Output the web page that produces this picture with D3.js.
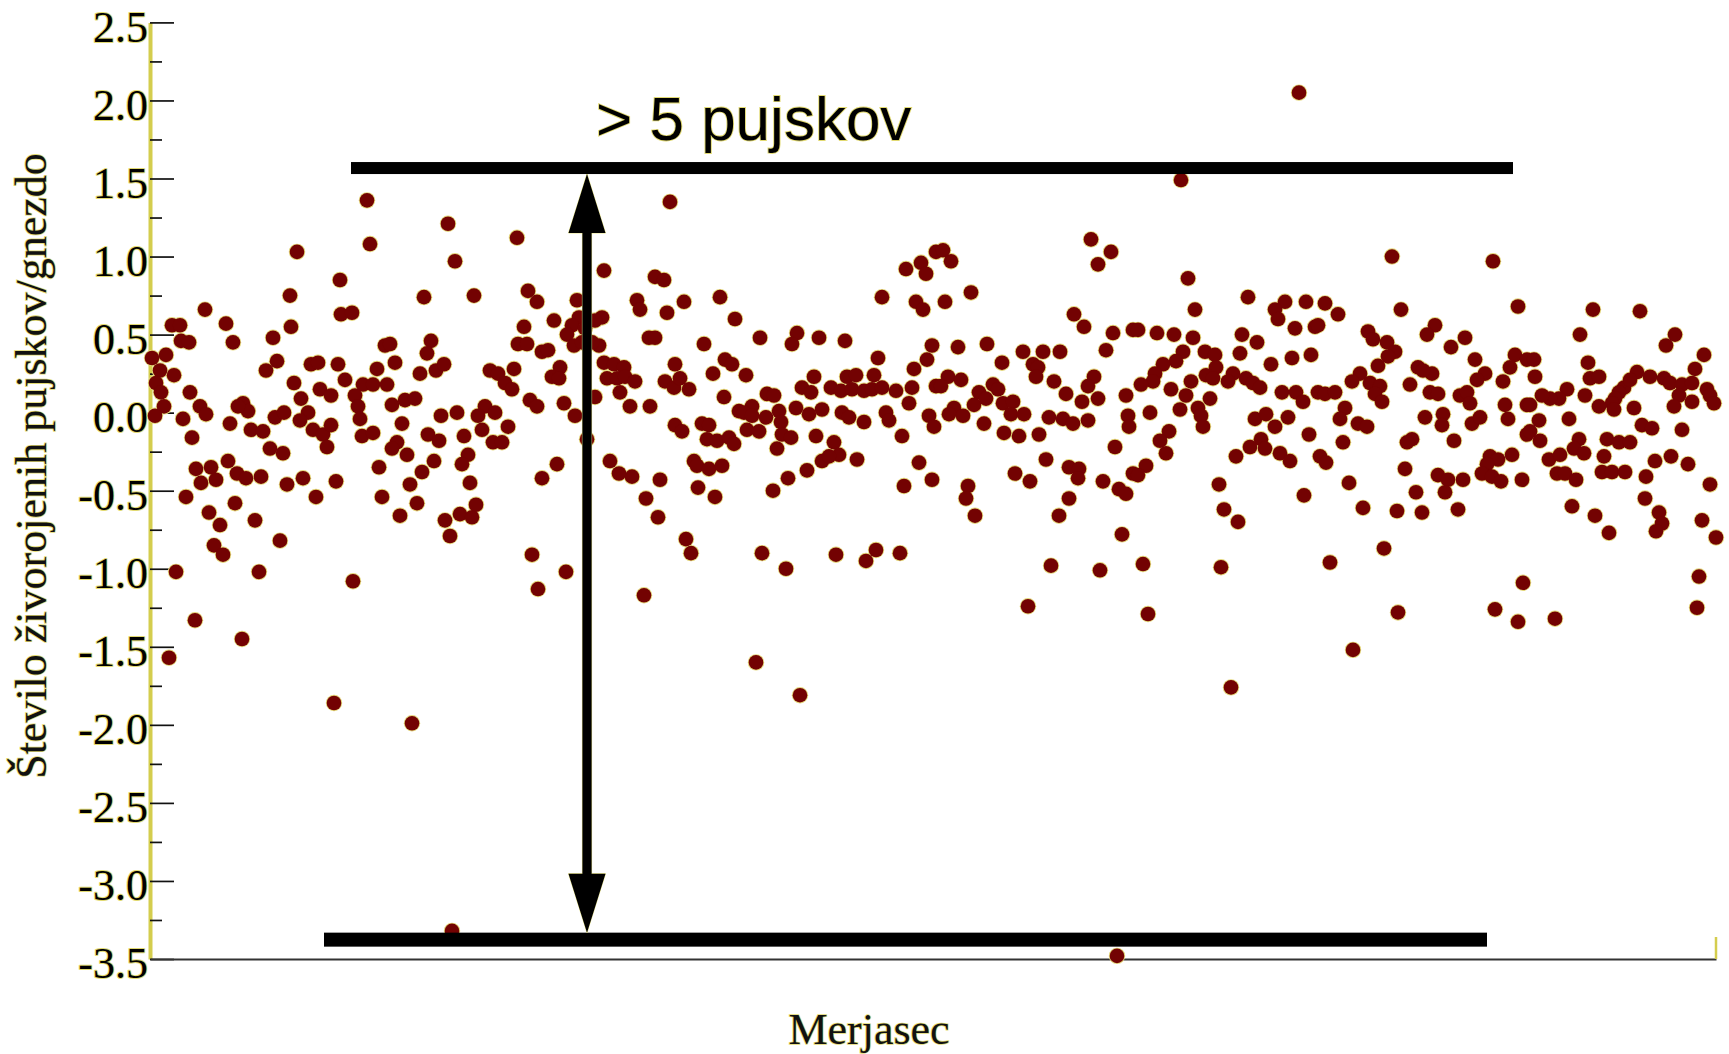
<!DOCTYPE html>
<html><head><meta charset="utf-8">
<script src="https://cdn.jsdelivr.net/npm/d3@7"></script>
<style>
html,body{margin:0;padding:0;background:#fff;}
svg{display:block;}
</style></head><body>
<svg id="chart" width="1729" height="1054"></svg>
<script>
// ---------- data ----------
const yTickValues = [-3.5,-3,-2.5,-2,-1.5,-1,-0.5,0,0.5,1,1.5,2,2.5];
const yTickLabels = ["-3.5","-3.0","-2.5","-2.0","-1.5","-1.0","-0.5","0.0","0.5","1.0","1.5","2.0","2.5"];
const yMinorTicks = [-3.25,-2.75,-2.25,-1.75,-1.25,-0.75,-0.25,0.25,0.75,1.25,1.75,2.25];
const yTitle = "Število živorojenih pujskov/gnezdo";
const xTitle = "Merjasec";
const annotationText = "> 5 pujskov";

// each point: [boar order position, piglets deviation]
const group1 = [[147,1.03],[190,0.85],[140,0.75],[191,0.63],[55,0.66],[22,0.56],[30,0.56],[76,0.57],[141,0.55],[31,0.46],[39,0.45],[83,0.45],[123,0.48],[2,0.35],[16,0.37],[127,0.33],[116,0.27],[161,0.31],[168,0.32],[188,0.31],[10,0.27],[24,0.24],[6,0.19],[195,0.21],[144,0.19],[11,0.13],[40,0.13],[170,0.15],[181,0.11],[151,0.09],[93,0.06],[98,0.01],[88,0.04],[50,0.04],[56,-0.01],[14,0.04],[5,-0.02],[33,-0.04],[158,0.00],[150,-0.05],[125,-0.03],[134,0.00],[80,-0.07],[101,-0.11],[113,-0.12],[163,-0.11],[173,-0.14],[181,-0.08],[177,-0.22],[42,-0.16],[120,-0.23],[133,-0.26],[78,-0.31],[46,-0.36],[61,-0.35],[51,-0.45],[66,-0.43],[87,-0.39],[96,-0.42],[111,-0.41],[137,-0.46],[153,-0.42],[186,-0.44],[36,-0.54],[85,-0.58],[166,-0.54],[59,-0.64],[70,-0.72],[105,-0.69],[64,-0.85],[73,-0.91],[130,-0.82],[26,-1.02],[109,-1.02],[45,-1.33],[92,-1.45],[19,-1.57],[184,-1.86]];
const group2 = [[217,1.36],[298,1.21],[367,1.12],[220,1.08],[305,0.97],[274,0.74],[324,0.75],[378,0.78],[387,0.71],[202,0.64],[374,0.55],[235,0.43],[240,0.44],[281,0.46],[277,0.38],[368,0.44],[377,0.44],[392,0.39],[245,0.32],[227,0.28],[270,0.25],[286,0.27],[294,0.31],[340,0.27],[348,0.25],[364,0.28],[213,0.18],[223,0.18],[237,0.18],[355,0.19],[362,0.15],[205,0.11],[208,0.04],[242,0.05],[255,0.08],[265,0.09],[380,0.08],[387,0.04],[291,-0.02],[307,0.00],[335,0.04],[328,-0.02],[345,0.00],[210,-0.04],[252,-0.07],[358,-0.09],[332,-0.11],[212,-0.15],[223,-0.13],[278,-0.14],[289,-0.18],[314,-0.15],[343,-0.19],[352,-0.19],[247,-0.19],[242,-0.23],[257,-0.27],[318,-0.27],[312,-0.33],[284,-0.31],[229,-0.35],[272,-0.38],[392,-0.42],[260,-0.46],[320,-0.45],[232,-0.54],[267,-0.58],[250,-0.66],[295,-0.69],[310,-0.65],[322,-0.67],[326,-0.59],[300,-0.79],[382,-0.91],[388,-1.13],[203,-1.08],[262,-1.99]];
const group3 = [[520,1.35],[454,0.91],[505,0.87],[514,0.85],[427,0.72],[487,0.72],[490,0.66],[534,0.71],[570,0.74],[517,0.64],[585,0.60],[404,0.59],[429,0.61],[422,0.56],[417,0.50],[424,0.43],[432,0.45],[452,0.61],[445,0.59],[435,0.54],[449,0.43],[442,0.45],[398,0.40],[499,0.48],[505,0.48],[554,0.44],[575,0.34],[582,0.31],[525,0.31],[410,0.29],[402,0.23],[409,0.22],[454,0.32],[464,0.31],[474,0.29],[457,0.22],[467,0.22],[475,0.23],[485,0.20],[515,0.20],[524,0.16],[530,0.22],[539,0.15],[563,0.25],[470,0.13],[445,0.10],[574,0.10],[480,0.04],[500,0.04],[414,0.06],[425,-0.02],[589,0.01],[552,-0.07],[559,-0.08],[525,-0.08],[532,-0.12],[437,-0.17],[557,-0.17],[567,-0.18],[579,-0.16],[584,-0.20],[407,-0.33],[460,-0.31],[469,-0.39],[482,-0.41],[510,-0.43],[544,-0.31],[547,-0.34],[559,-0.36],[572,-0.34],[548,-0.48],[565,-0.54],[496,-0.55],[508,-0.67],[536,-0.81],[541,-0.90],[416,-1.02],[494,-1.17]];
const group4 = [[786,1.03],[756,0.92],[771,0.96],[776,0.89],[732,0.74],[766,0.71],[773,0.66],[610,0.48],[647,0.51],[642,0.44],[669,0.48],[695,0.46],[782,0.43],[777,0.34],[728,0.35],[764,0.28],[596,0.24],[664,0.23],[786,0.17],[652,0.16],[661,0.13],[681,0.16],[691,0.14],[697,0.23],[706,0.24],[724,0.24],[702,0.15],[714,0.14],[722,0.15],[732,0.16],[746,0.14],[762,0.16],[617,0.12],[624,0.11],[759,0.06],[602,0.04],[594,0.00],[602,-0.02],[629,0.01],[631,-0.06],[646,0.03],[659,-0.01],[672,0.02],[692,0.00],[699,-0.03],[714,-0.06],[736,0.00],[739,-0.05],[779,-0.02],[784,-0.09],[616,-0.03],[597,-0.11],[609,-0.12],[632,-0.14],[641,-0.16],[666,-0.15],[752,-0.15],[684,-0.19],[689,-0.27],[672,-0.31],[679,-0.28],[627,-0.23],[707,-0.30],[769,-0.32],[657,-0.37],[638,-0.42],[623,-0.50],[782,-0.43],[754,-0.47],[612,-0.90],[636,-1.00],[686,-0.91],[716,-0.95],[726,-0.88],[750,-0.90],[606,-1.60],[650,-1.81]];
const group5 = [[793,1.04],[801,0.97],[941,1.11],[961,1.03],[948,0.95],[821,0.77],[795,0.71],[924,0.63],[934,0.55],[963,0.51],[983,0.53],[808,0.42],[837,0.44],[873,0.39],[893,0.39],[910,0.39],[956,0.40],[852,0.32],[883,0.31],[888,0.29],[886,0.23],[798,0.23],[791,0.17],[811,0.21],[904,0.20],[944,0.23],[938,0.17],[843,0.18],[848,0.15],[829,0.13],[916,0.12],[976,0.11],[948,0.09],[932,0.07],[824,0.05],[836,0.09],[853,0.06],[863,0.07],[804,0.03],[799,-0.01],[813,-0.02],[861,-0.01],[874,-0.01],[834,-0.07],[899,-0.03],[913,-0.04],[923,-0.07],[938,-0.05],[978,-0.02],[979,-0.09],[854,-0.13],[869,-0.15],[889,-0.14],[965,-0.22],[896,-0.30],[919,-0.35],[929,-0.36],[928,-0.42],[865,-0.39],[880,-0.44],[953,-0.44],[969,-0.49],[976,-0.52],[983,-0.39],[818,-0.47],[816,-0.55],[919,-0.55],[825,-0.66],[909,-0.66],[972,-0.78],[901,-0.98],[950,-1.01],[878,-1.24]];
const group6 = [[1031,1.49],[1038,0.86],[1098,0.74],[1045,0.66],[1135,0.71],[1125,0.66],[1128,0.60],[1156,0.71],[1175,0.70],[1145,0.54],[1165,0.55],[1168,0.56],[988,0.53],[1007,0.51],[1024,0.50],[1043,0.48],[1092,0.50],[1107,0.45],[1090,0.38],[1033,0.39],[1026,0.33],[1055,0.39],[1065,0.37],[1142,0.35],[1161,0.37],[1121,0.31],[1013,0.31],[1005,0.25],[1003,0.20],[991,0.18],[1066,0.29],[1056,0.24],[1063,0.22],[1083,0.25],[1078,0.20],[1096,0.22],[1103,0.19],[1110,0.16],[1041,0.20],[1021,0.15],[1036,0.11],[1060,0.09],[1132,0.13],[1146,0.13],[1153,0.07],[1168,0.13],[1175,0.12],[1030,0.02],[1048,0.03],[1051,-0.02],[1000,0.00],[1053,-0.09],[1105,-0.04],[1116,-0.01],[1125,-0.09],[1138,-0.03],[1019,-0.12],[1010,-0.18],[1016,-0.26],[1111,-0.17],[1115,-0.23],[1100,-0.22],[1130,-0.26],[1140,-0.31],[1159,-0.14],[1170,-0.28],[1176,-0.32],[1086,-0.28],[996,-0.34],[988,-0.40],[1069,-0.46],[1154,-0.53],[1074,-0.62],[1088,-0.70],[993,-0.97],[1071,-0.99],[1180,-0.96],[998,-1.29],[1081,-1.76]];
const group7 = [[1242,1.00],[1343,0.97],[1188,0.63],[1251,0.66],[1368,0.68],[1218,0.52],[1223,0.47],[1285,0.56],[1277,0.50],[1237,0.45],[1245,0.39],[1238,0.36],[1315,0.48],[1301,0.42],[1365,0.37],[1325,0.34],[1377,0.34],[1228,0.30],[1268,0.29],[1282,0.25],[1273,0.27],[1335,0.25],[1327,0.21],[1360,0.29],[1353,0.20],[1210,0.25],[1202,0.20],[1220,0.19],[1230,0.17],[1225,0.12],[1232,0.07],[1185,0.13],[1260,0.18],[1280,0.13],[1288,0.12],[1310,0.11],[1317,0.13],[1320,0.06],[1377,0.05],[1355,0.05],[1195,0.03],[1190,-0.04],[1275,-0.03],[1293,-0.01],[1292,-0.08],[1322,-0.07],[1330,-0.03],[1358,-0.04],[1208,-0.07],[1217,-0.09],[1377,-0.14],[1193,-0.19],[1262,-0.17],[1257,-0.19],[1304,-0.18],[1340,-0.28],[1348,-0.30],[1362,-0.27],[1337,-0.33],[1255,-0.36],[1288,-0.40],[1298,-0.43],[1295,-0.51],[1313,-0.43],[1332,-0.39],[1342,-0.41],[1351,-0.44],[1372,-0.43],[1199,-0.45],[1266,-0.51],[1213,-0.61],[1247,-0.63],[1272,-0.64],[1308,-0.62],[1234,-0.87],[1373,-1.09],[1248,-1.28],[1345,-1.26],[1368,-1.34],[1203,-1.52]];
const group8 = [[1443,0.66],[1490,0.65],[1430,0.50],[1525,0.50],[1516,0.43],[1554,0.37],[1545,0.28],[1384,0.34],[1385,0.23],[1438,0.32],[1440,0.22],[1449,0.23],[1487,0.26],[1500,0.23],[1514,0.22],[1520,0.19],[1532,0.18],[1542,0.19],[1557,0.15],[1560,0.11],[1564,0.06],[1474,0.16],[1469,0.13],[1465,0.09],[1462,0.06],[1480,0.21],[1417,0.15],[1409,0.09],[1400,0.09],[1392,0.11],[1435,0.11],[1529,0.11],[1524,0.04],[1542,0.07],[1380,0.05],[1449,0.04],[1464,0.02],[1484,0.03],[1419,-0.04],[1389,-0.05],[1380,-0.12],[1492,-0.08],[1502,-0.10],[1532,-0.11],[1390,-0.18],[1429,-0.17],[1424,-0.23],[1434,-0.26],[1457,-0.17],[1469,-0.19],[1480,-0.19],[1399,-0.30],[1410,-0.27],[1454,-0.28],[1505,-0.31],[1521,-0.28],[1538,-0.33],[1407,-0.39],[1415,-0.39],[1426,-0.43],[1452,-0.38],[1462,-0.38],[1475,-0.38],[1496,-0.41],[1560,-0.46],[1495,-0.55],[1422,-0.60],[1445,-0.66],[1459,-0.77],[1509,-0.64],[1512,-0.71],[1506,-0.76],[1552,-0.69],[1566,-0.80],[1549,-1.05],[1547,-1.25],[1405,-1.32]];
const outliers = [[302,-3.32],[967,-3.48],[1149,2.05]];

// annotation geometry in data units
const topBar = {x0: 201, x1: 1363, v: 1.567};
const bottomBar = {x0: 174, x1: 1337, v: -3.376};
const arrowPos = 437;
const labelPos = {x: 446};

// ---------- chart ----------
const svg = d3.select("#chart");
const x = d3.scaleLinear().domain([0, 1566]).range([150, 1716]);
const y = d3.scaleLinear().domain([-3.5, 2.5]).range([959, 22.4]);
const halo = "#e2da72";
const serif = "'Liberation Serif','Times New Roman',serif";

// y axis (ticks inside)
const yAxis = d3.axisLeft(y).tickValues(yTickValues).tickSizeInner(-24).tickSizeOuter(0)
  .tickPadding(2).tickFormat((d, i) => yTickLabels[i]);
const gy = svg.append("g").attr("transform", "translate(150,0)").call(yAxis);
gy.select(".domain").attr("stroke", "#d4cd4e").attr("stroke-width", 4);
gy.selectAll(".tick line").attr("stroke", "#111").attr("stroke-width", 1.7);
gy.selectAll(".tick text").attr("dy", "0.43em").attr("fill", "#000")
  .style("font-family", serif).style("font-size", "44px")
  .attr("stroke", halo).attr("stroke-width", 2).attr("paint-order", "stroke").attr("stroke-linejoin", "round");

const yMinor = d3.axisLeft(y).tickValues(yMinorTicks).tickSizeInner(-12).tickSizeOuter(0).tickFormat("");
const gym = svg.append("g").attr("transform", "translate(150,0)").call(yMinor);
gym.select(".domain").remove();
gym.selectAll(".tick line").attr("stroke", "#111").attr("stroke-width", 1.7);

// x axis (line only)
const xAxis = d3.axisBottom(x).tickValues([]).tickSizeOuter(0);
const gx = svg.append("g").attr("transform", "translate(0,959)").call(xAxis);
gx.select(".domain").attr("stroke", "#333").attr("stroke-width", 2);
svg.append("line").attr("x1", x(1566)).attr("x2", x(1566)).attr("y1", 937).attr("y2", 959)
  .attr("stroke", "#d4cd4e").attr("stroke-width", 2.5);

// axis titles
svg.append("text").attr("transform", "translate(46,466) rotate(-90)").attr("text-anchor", "middle")
  .style("font-family", serif).style("font-size", "44px").attr("fill", "#111")
  .attr("stroke", halo).attr("stroke-width", 1.6).attr("paint-order", "stroke")
  .text(yTitle);
svg.append("text").attr("x", 869).attr("y", 1044).attr("text-anchor", "middle")
  .style("font-family", serif).style("font-size", "44px").attr("fill", "#111")
  .attr("stroke", halo).attr("stroke-width", 1.6).attr("paint-order", "stroke")
  .text(xTitle);

// points
const allPoints = [].concat(group1, group2, group3, group4, group5, group6, group7, group8, outliers);
const gp = svg.append("g");
gp.selectAll("circle.halo").data(allPoints).join("circle").attr("class", "halo")
  .attr("cx", d => x(d[0])).attr("cy", d => y(d[1])).attr("r", 8.2).attr("fill", "#e3d67a");
gp.selectAll("circle.dot").data(allPoints).join("circle").attr("class", "dot")
  .attr("cx", d => x(d[0])).attr("cy", d => y(d[1])).attr("r", 7.3).attr("fill", "#730202");

// annotation bars
svg.append("rect").attr("x", x(topBar.x0)).attr("width", x(topBar.x1) - x(topBar.x0))
  .attr("y", y(topBar.v) - 6).attr("height", 12).attr("fill", "#000");
svg.append("rect").attr("x", x(bottomBar.x0)).attr("width", x(bottomBar.x1) - x(bottomBar.x0))
  .attr("y", y(bottomBar.v) - 7).attr("height", 14).attr("fill", "#000");

// double arrow
const ax = x(arrowPos);
const tipTop = y(topBar.v) + 6, tipBot = y(bottomBar.v) - 7;
const headH = 59, headW = 18.5, shaftW = 4.6;
const arrowPath = d3.path();
arrowPath.moveTo(ax, tipTop);
arrowPath.lineTo(ax + headW, tipTop + headH);
arrowPath.lineTo(ax + shaftW, tipTop + headH);
arrowPath.lineTo(ax + shaftW, tipBot - headH);
arrowPath.lineTo(ax + headW, tipBot - headH);
arrowPath.lineTo(ax, tipBot);
arrowPath.lineTo(ax - headW, tipBot - headH);
arrowPath.lineTo(ax - shaftW, tipBot - headH);
arrowPath.lineTo(ax - shaftW, tipTop + headH);
arrowPath.lineTo(ax - headW, tipTop + headH);
arrowPath.closePath();
svg.append("path").attr("d", arrowPath.toString()).attr("fill", "#000")
  .attr("stroke", "#e8e48a").attr("stroke-width", 1).attr("paint-order", "stroke");

// annotation label
svg.append("text").attr("x", x(labelPos.x)).attr("y", 140)
  .style("font-family", "'Liberation Sans',Arial,sans-serif").style("font-size", "62px")
  .attr("fill", "#000").attr("stroke", halo).attr("stroke-width", 1.8).attr("paint-order", "stroke")
  .text(annotationText);
</script>
</body></html>
